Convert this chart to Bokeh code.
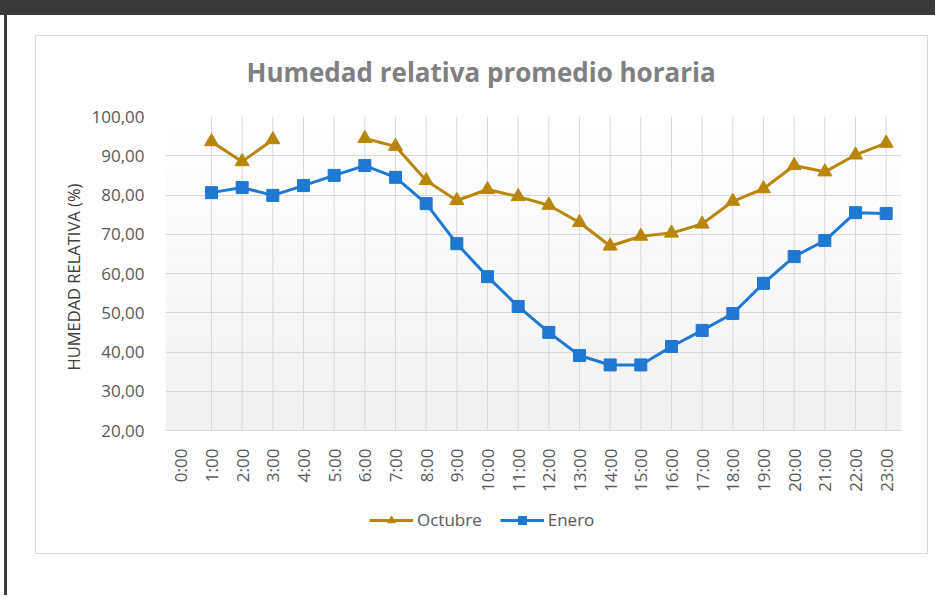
import math
from bokeh.plotting import figure
from bokeh.models import (ColumnDataSource, Legend, LegendItem, FixedTicker,
                          Range1d, Title)
from bokeh.embed import file_html
from bokeh.resources import INLINE

# ---- data ----
hours = [f"{h}:00" for h in range(24)]
octubre = [None, 93.6, 88.5, 94.1, None, None, 94.4, 92.4, 83.7, 78.6, 81.4,
           79.6, 77.4, 73.0, 67.0, 69.5, 70.3, 72.6, 78.4, 81.6, 87.5, 85.9,
           90.2, 93.2]
enero = [None, 80.6, 81.9, 79.9, 82.4, 85.0, 87.5, 84.5, 77.8, 67.6, 59.2,
         51.6, 45.0, 39.1, 36.7, 36.7, 41.4, 45.5, 49.8, 57.5, 64.3, 68.4,
         75.5, 75.3]
y_ticks = [20, 30, 40, 50, 60, 70, 80, 90, 100]
title_text = "Humedad relativa promedio horaria"
y_label = "HUMEDAD RELATIVA (%)"
series_names = ["Octubre", "Enero"]

nan = float("nan")
def clean(v):
    return [nan if x is None else x for x in v]

xs = list(range(len(hours)))
src = ColumnDataSource(dict(x=xs, oct=clean(octubre), ene=clean(enero)))

# layout (pixels)
plot_px = 314            # height of the 20..100 band
extra_px = 105           # frame space below the value axis (labels + legend)
px_per_unit = plot_px / (y_ticks[-1] - y_ticks[0])
y_lo = y_ticks[0] - extra_px / px_per_unit

x0, x1 = -0.5, len(hours) - 0.5
p = figure(x_range=Range1d(x0, x1),
           y_range=Range1d(y_lo, y_ticks[-1]),
           frame_width=736, frame_height=plot_px + extra_px,
           output_backend="svg", toolbar_location=None,
           min_border_left=165, min_border_right=34,
           min_border_top=116, min_border_bottom=60)
p.border_fill_color = None
p.outline_line_color = None
p.background_fill_color = None

dark = "#3b3b3b"
edge = "#d9d9d9"
p.styles = {
    "background": (
        f"linear-gradient({dark},{dark}) 0px 0px / 100% 15px no-repeat, "
        f"linear-gradient({dark},{dark}) 4px 0px / 3px 100% no-repeat, "
        f"linear-gradient({edge},{edge}) 35px 35px / 893px 1px no-repeat, "
        f"linear-gradient({edge},{edge}) 35px 553px / 893px 1px no-repeat, "
        f"linear-gradient({edge},{edge}) 35px 35px / 1px 519px no-repeat, "
        f"linear-gradient({edge},{edge}) 927px 35px / 1px 519px no-repeat, "
        "#ffffff"
    )
}

# smooth vertical gradient background of plot area
steps = 160
span = y_ticks[-1] - y_ticks[0]
bots, tops, cols = [], [], []
for i in range(steps):
    b = y_ticks[0] + span * i / steps
    t = y_ticks[0] + span * (i + 1) / steps
    frac = 1 - (i + 0.5) / steps  # 1 at bottom
    g = int(round(255 - frac * (255 - 0xF0)))
    bots.append(b); tops.append(t); cols.append(f"#{g:02x}{g:02x}{g:02x}")
p.quad(left=[x0] * steps, right=[x1] * steps, bottom=bots, top=tops,
       fill_color=cols, line_color=None, level="underlay")

# grids
p.xgrid.visible = False
n_v = len(xs) - 1
p.segment(x0=xs[1:], x1=xs[1:], y0=[y_ticks[0]] * n_v, y1=[y_ticks[-1]] * n_v,
          line_color=edge, line_width=1, level="underlay")
p.ygrid.ticker = FixedTicker(ticks=y_ticks)
p.ygrid.grid_line_color = edge
p.ygrid.grid_line_width = 1

gold = "#B8860B"
blue = "#1F78D1"
l1 = p.line("x", "oct", source=src, line_color=gold, line_width=3)
s1 = p.scatter("x", "oct", source=src, marker="triangle", size=14,
               fill_color=gold, line_color=gold)
l2 = p.line("x", "ene", source=src, line_color=blue, line_width=3)
s2 = p.scatter("x", "ene", source=src, marker="square", size=12,
               fill_color=blue, line_color=blue)

font = "Open Sans"
label_color = "#595959"
# y axis
p.yaxis.ticker = FixedTicker(ticks=y_ticks)
p.yaxis.bounds = (y_ticks[0], y_ticks[-1])
p.yaxis.major_label_overrides = {t: f"{t:.2f}".replace(".", ",") for t in y_ticks}
p.yaxis.axis_line_color = None
p.yaxis.major_tick_line_color = None
p.yaxis.minor_tick_line_color = None
p.yaxis.major_label_text_font = font
p.yaxis.major_label_text_font_size = "17px"
p.yaxis.major_label_text_color = label_color
p.yaxis.major_label_standoff = 15

# y axis title, placed along the 20..100 band
p.add_layout(Title(text=y_label, align="left", offset=extra_px + 60,
                   text_font=font, text_font_size="16.5px",
                   text_font_style="normal", text_color="#404040",
                   standoff=8), "left")

# x axis, drawn at the bottom of the value band
p.xaxis.fixed_location = y_ticks[0]
p.xaxis.ticker = FixedTicker(ticks=xs)
p.xaxis.major_label_overrides = {i: hours[i] for i in xs}
p.xaxis.axis_line_color = edge
p.xaxis.major_tick_line_color = None
p.xaxis.minor_tick_line_color = None
p.xaxis.major_label_orientation = math.pi / 2
p.xaxis.major_label_text_font = font
p.xaxis.major_label_text_font_size = "17px"
p.xaxis.major_label_text_color = label_color
p.xaxis.major_label_standoff = 12

# title
p.title.text = title_text
p.title.text_font = font
p.title.text_font_size = "26px"
p.title.text_font_style = "bold"
p.title.text_color = "#808080"
p.title.align = "left"
p.title.offset = 81
p.title.standoff = 54

legend = Legend(items=[LegendItem(label=series_names[0], renderers=[l1, s1]),
                       LegendItem(label=series_names[1], renderers=[l2, s2])],
                orientation="horizontal", location=(204, 4),
                label_text_font=font, label_text_font_size="17px",
                label_text_color=label_color, glyph_width=44, glyph_height=20,
                label_standoff=4, spacing=18, background_fill_alpha=0,
                border_line_color=None, padding=0, margin=0)
p.add_layout(legend, "center")

open("out.html", "w").write(file_html(p, INLINE))
